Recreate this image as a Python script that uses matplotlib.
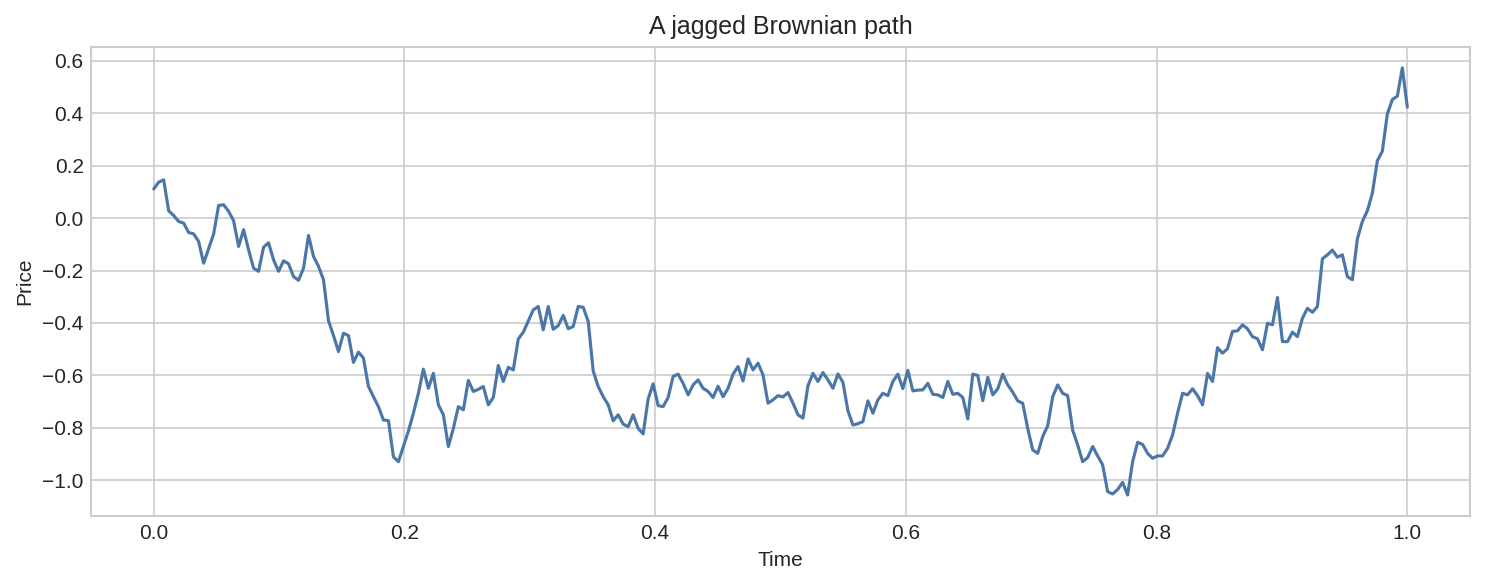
import matplotlib; matplotlib.use('Agg')
import matplotlib.pyplot as plt
import numpy as np

# path values, evenly spaced on [0, 1]
price = [
    0.111, 0.137, 0.146, 0.028, 0.010, -0.013, -0.019, -0.055, -0.060, -0.089,
    -0.172, -0.117, -0.061, 0.048, 0.051, 0.026, -0.010, -0.108, -0.044, -0.121,
    -0.191, -0.203, -0.111, -0.094, -0.159, -0.203, -0.163, -0.174, -0.223, -0.237,
    -0.191, -0.066, -0.146, -0.184, -0.235, -0.391, -0.448, -0.509, -0.439, -0.448,
    -0.550, -0.511, -0.534, -0.642, -0.681, -0.719, -0.770, -0.772, -0.910, -0.929,
    -0.871, -0.812, -0.744, -0.668, -0.576, -0.649, -0.592, -0.712, -0.750, -0.871,
    -0.802, -0.719, -0.731, -0.619, -0.661, -0.653, -0.642, -0.712, -0.684, -0.562,
    -0.623, -0.569, -0.579, -0.461, -0.435, -0.392, -0.350, -0.337, -0.426, -0.337,
    -0.424, -0.410, -0.371, -0.422, -0.413, -0.337, -0.340, -0.394, -0.583, -0.642,
    -0.681, -0.712, -0.773, -0.750, -0.786, -0.795, -0.750, -0.802, -0.823, -0.690,
    -0.632, -0.715, -0.719, -0.684, -0.604, -0.595, -0.630, -0.674, -0.636, -0.617,
    -0.649, -0.661, -0.684, -0.641, -0.681, -0.649, -0.595, -0.566, -0.621, -0.537,
    -0.579, -0.553, -0.598, -0.706, -0.693, -0.677, -0.682, -0.665, -0.706, -0.750,
    -0.763, -0.639, -0.592, -0.623, -0.589, -0.617, -0.649, -0.594, -0.626, -0.735,
    -0.789, -0.784, -0.776, -0.697, -0.744, -0.693, -0.668, -0.677, -0.623, -0.595,
    -0.650, -0.581, -0.659, -0.656, -0.655, -0.630, -0.672, -0.674, -0.684, -0.623,
    -0.672, -0.668, -0.684, -0.766, -0.595, -0.600, -0.696, -0.607, -0.674, -0.651,
    -0.595, -0.636, -0.664, -0.697, -0.706, -0.802, -0.884, -0.897, -0.833, -0.792,
    -0.681, -0.636, -0.668, -0.677, -0.809, -0.865, -0.929, -0.913, -0.871, -0.907,
    -0.941, -1.043, -1.052, -1.035, -1.008, -1.056, -0.929, -0.855, -0.863, -0.897,
    -0.916, -0.907, -0.907, -0.878, -0.827, -0.744, -0.668, -0.674, -0.651, -0.677,
    -0.712, -0.592, -0.623, -0.494, -0.515, -0.498, -0.432, -0.430, -0.407, -0.422,
    -0.452, -0.460, -0.502, -0.401, -0.407, -0.303, -0.471, -0.471, -0.435, -0.452,
    -0.382, -0.344, -0.359, -0.337, -0.155, -0.140, -0.122, -0.149, -0.140, -0.223,
    -0.235, -0.079, -0.013, 0.028, 0.095, 0.219, 0.255, 0.397, 0.452, 0.465,
    0.573, 0.423,
]
time = np.linspace(0, 1, len(price))

plt.style.use('seaborn-v0_8-whitegrid')
fig, ax = plt.subplots(figsize=(10, 4), dpi=150)

ax.plot(time, price, color='#4a77a8', linewidth=1.5)

ax.set_title('A jagged Brownian path', fontsize=12)
ax.set_xlabel('Time')
ax.set_ylabel('Price')
ax.set_yticks(np.arange(-1.0, 0.61, 0.2))

fig.tight_layout()
fig.savefig('out.png', dpi=150, bbox_inches='tight')
